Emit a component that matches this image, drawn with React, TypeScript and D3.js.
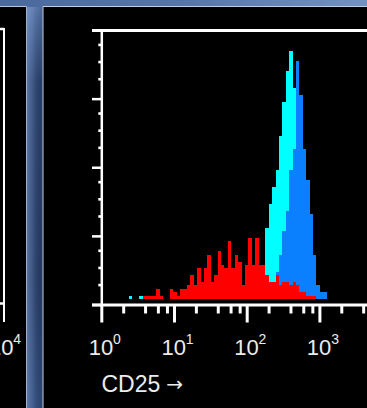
import React from 'react';
import * as d3 from 'd3';

const WIDTH = 367;
const HEIGHT = 408;

// CD25 axis (log decades)
const majorTickValues = [1, 10, 100, 1000, 10000];
const majorTickExponents = ['0', '1', '2', '3', '4'];
const minorTickMultipliers = [2, 4, 6, 8];
const xAxisTitle = 'CD25';
const xAxisArrow = '→';

// count axis ticks (unlabelled)
const yMajorTicks = [0, 1, 2, 3, 4];
const yMinorFractions = [0.29, 0.54, 0.79];

// histogram bins: bin i spans 10^(i/BINS_PER_DECADE) .. 10^((i+1)/BINS_PER_DECADE)
const BINS_PER_DECADE = 64 / 3;

const cyanCounts = [
  0, 0, 0, 0, 0, 0, 0, 0, 1, 0, 0, 1, 0, 0, 0, 0, 0, 0, 0, 0,
  0, 0, 0, 0, 0, 0, 0, 0, 0, 0, 0, 0, 0, 0, 0, 0, 0, 0, 0, 0,
  0, 0, 0, 0, 0, 0, 0, 0, 21, 28, 33, 38, 48, 58, 67, 73, 62, 45, 25, 12,
  5, 2, 1, 0, 0, 0, 0,
];

const blueCounts = [
  0, 0, 0, 0, 0, 0, 0, 0, 0, 0, 0, 0, 0, 0, 0, 0, 0, 0, 0, 0,
  0, 0, 0, 0, 0, 0, 0, 0, 0, 0, 0, 0, 0, 0, 0, 0, 0, 0, 0, 0,
  0, 0, 0, 0, 0, 0, 0, 0, 0, 0, 0, 8, 13, 20, 26, 38, 44, 70, 60, 44,
  35, 25, 13, 4, 2, 2, 0,
];

const redCounts = [
  0, 0, 0, 0, 0, 0, 0, 0, 0, 0, 0, 0, 1, 1, 1, 1, 3, 1, 0, 0,
  3, 2, 1, 3, 3, 4, 7, 4, 9, 5, 9, 13, 5, 7, 14, 10, 9, 17, 9, 13,
  11, 4, 10, 18, 10, 18, 10, 10, 7, 5, 5, 7, 4, 5, 5, 4, 5, 4, 2, 2,
  1, 1, 1, 0, 0, 0, 0,
];

const seriesList = [
  { name: 'cyan', counts: cyanCounts, color: '#00ffff' },
  { name: 'blue', counts: blueCounts, color: '#0a80ff' },
  { name: 'red', counts: redCounts, color: '#ff0000' },
];

const FONT = '"Liberation Sans", Arial, Helvetica, sans-serif';
const TEXT_COLOR = '#ececec';

export default function App() {
  // main plot scales
  const x = d3.scaleLog().domain([1, 10000]).range([101.8, 101.8 + 4 * 72.7]);
  const y = d3.scaleLinear().domain([0, 80]).range([299, 27]);
  const yTick = d3.scaleLinear().domain([0, 4]).range([305, 30.5]);
  // left (partial) panel: only its right end is visible
  const xLeft = d3.scaleLog().domain([1, 10000]).range([4 - 4 * 72.7, 4]);

  const axisTop = yTick(4);
  const axisBottom = yTick(0);

  const binEdge = (i: number) => x(Math.pow(10, i / BINS_PER_DECADE));

  const minorX: number[] = [];
  majorTickValues.slice(0, -1).forEach((v) =>
    minorTickMultipliers.forEach((m) => minorX.push(x(v * m)))
  );

  const minorY: number[] = [];
  yMajorTicks.slice(0, -1).forEach((v) =>
    yMinorFractions.forEach((f) => minorY.push(yTick(v + f)))
  );

  const label = (cx: number, exp: string, key: string) => (
    <g key={key}>
      <text x={cx - 0.8} y={354.5} fontFamily={FONT} fontSize={22} fill={TEXT_COLOR} textAnchor="middle">10</text>
      <text x={cx + 11.3} y={343.5} fontFamily={FONT} fontSize={14} fill={TEXT_COLOR}>{exp}</text>
    </g>
  );

  return (
    <svg
      width={WIDTH}
      height={HEIGHT}
      viewBox={`0 0 ${WIDTH} ${HEIGHT}`}
      style={{ position: 'absolute', left: 0, top: 0, display: 'block' }}
    >
      <defs>
        <linearGradient id="bgV" x1="0" y1="0" x2="0" y2="1">
          <stop offset="0" stopColor="#6a8bbf" />
          <stop offset="0.05" stopColor="#5676a8" />
          <stop offset="0.2" stopColor="#2e4570" />
          <stop offset="0.7" stopColor="#2a3f68" />
          <stop offset="1" stopColor="#34507f" />
        </linearGradient>
        <linearGradient id="topStrip" x1="0" y1="0" x2="1" y2="0">
          <stop offset="0" stopColor="#4a689c" />
          <stop offset="0.5" stopColor="#5676aa" />
          <stop offset="1" stopColor="#7392c2" />
        </linearGradient>
        <linearGradient id="streak" x1="0" y1="0" x2="1" y2="0">
          <stop offset="0" stopColor="#7f9acb" stopOpacity="0.55" />
          <stop offset="0.35" stopColor="#6d88b8" stopOpacity="0.3" />
          <stop offset="0.7" stopColor="#1d2d4e" stopOpacity="0.2" />
          <stop offset="1" stopColor="#1d2d4e" stopOpacity="0.35" />
        </linearGradient>
        <clipPath id="leftPanelClip">
          <rect x={0} y={7} width={26} height={HEIGHT - 7} />
        </clipPath>
      </defs>

      {/* slide background */}
      <rect x={0} y={0} width={WIDTH} height={HEIGHT} fill="url(#bgV)" />
      <rect x={0} y={0} width={WIDTH} height={7} fill="url(#topStrip)" />
      <rect x={27} y={7} width={16} height={HEIGHT - 7} fill="url(#streak)" />

      {/* left partial panel */}
      <rect x={0} y={7} width={26.5} height={HEIGHT - 7} fill="#000" />
      <line x1={0} x2={26.5} y1={6.5} y2={6.5} stroke="#b9c5da" strokeWidth={1} />
      <line x1={26.5} x2={26.5} y1={6.5} y2={HEIGHT} stroke="#9fb0cc" strokeWidth={1} />
      <g clipPath="url(#leftPanelClip)">
        <line x1={xLeft(10000)} x2={xLeft(10000)} y1={28} y2={322} stroke="#fff" strokeWidth={2} />
        <line x1={0} x2={xLeft(10000)} y1={29} y2={29} stroke="#fff" strokeWidth={2.5} />
        <line x1={0} x2={xLeft(10000)} y1={axisBottom - 1.5} y2={axisBottom - 1.5} stroke="#fff" strokeWidth={2.5} />
        {label(xLeft(10000) - 2, majorTickExponents[4], 'left4')}
      </g>

      {/* right panel */}
      <rect x={43} y={7} width={WIDTH - 43} height={HEIGHT - 7} fill="#000" />
      <line x1={43} x2={WIDTH} y1={6.5} y2={6.5} stroke="#c3cde0" strokeWidth={1} />
      <line x1={43} x2={43} y1={6.5} y2={HEIGHT} stroke="#c3cde0" strokeWidth={1} />

      {/* histograms */}
      {seriesList.map((s) => (
        <g key={s.name}>
          {s.counts.map((c, i) =>
            c > 0 ? (
              <rect
                key={i}
                x={binEdge(i)}
                width={binEdge(i + 1) - binEdge(i)}
                y={y(c)}
                height={y(0) - y(c)}
                fill={s.color}
                shapeRendering="crispEdges"
              />
            ) : null
          )}
        </g>
      ))}

      {/* frame & axes */}
      <line x1={92} x2={WIDTH} y1={axisTop} y2={axisTop} stroke="#fff" strokeWidth={3} />
      <line x1={92} x2={WIDTH} y1={axisBottom} y2={axisBottom} stroke="#fff" strokeWidth={3} />
      <line x1={x(1)} x2={x(1)} y1={axisTop - 1.5} y2={axisBottom} stroke="#fff" strokeWidth={2.5} />

      {yMajorTicks.map((v) => (
        <line key={`ym${v}`} x1={92} x2={x(1)} y1={yTick(v)} y2={yTick(v)} stroke="#fff" strokeWidth={2.5} />
      ))}
      {minorY.map((py, i) => (
        <rect key={`yn${i}`} x={98.3} y={py - 1.3} width={3} height={2.6} fill="#fff" />
      ))}

      {majorTickValues.map((v) => (
        <line key={`xm${v}`} x1={x(v)} x2={x(v)} y1={axisBottom} y2={322.5} stroke="#fff" strokeWidth={3} />
      ))}
      {minorX.map((px, i) => (
        <line key={`xn${i}`} x1={px} x2={px} y1={axisBottom} y2={313.5} stroke="#fff" strokeWidth={3} />
      ))}

      {majorTickValues.slice(0, 4).map((v, i) => label(x(v), majorTickExponents[i], `xl${v}`))}

      <text x={101.5} y={391.5} fontFamily={FONT} fontSize={23} fill={TEXT_COLOR}>
        {xAxisTitle}
        <tspan dx={6} fontFamily='"DejaVu Sans", sans-serif' fontSize={20} dy={-1}>{xAxisArrow}</tspan>
      </text>
    </svg>
  );
}
